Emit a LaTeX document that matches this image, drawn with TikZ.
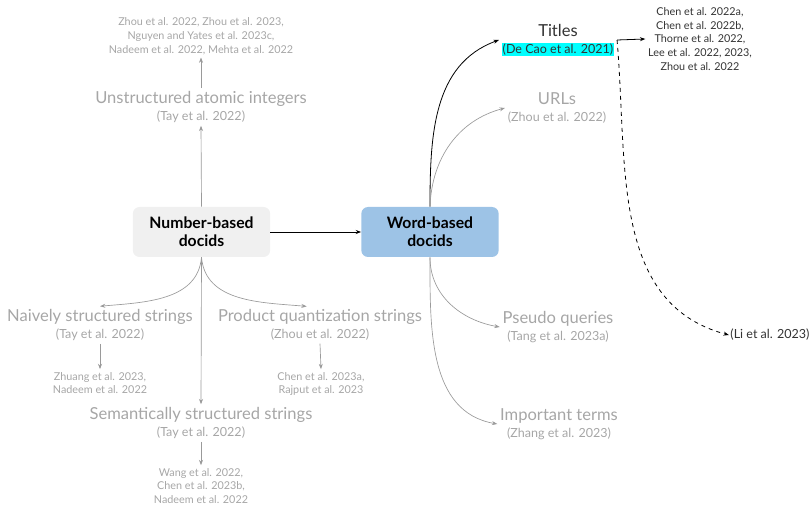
\documentclass[tikz,border=0pt]{standalone}
\usepackage{fontspec}
\setmainfont{Lato}
\usepackage{xcolor}
\usepackage{tikz}
\usetikzlibrary{positioning, arrows.meta}
\definecolor{CatGray}{HTML}{A6A6A6}
\definecolor{ArrGray}{HTML}{9A9A9A}
\definecolor{DarkText}{HTML}{333333}
\definecolor{NumFill}{HTML}{F0F0F0}
\definecolor{WordFill}{HTML}{9DC3E6}
\definecolor{HiCyan}{HTML}{00FFFF}
\setlength{\fboxsep}{0.6pt}

\begin{document}
\begin{tikzpicture}[
  x=0.75pt, y=-0.75pt,
  >={Stealth[length=4pt, width=3pt]},
  grayarr/.style={->, line width=0.5pt, color=ArrGray},
  darkarr/.style={->, line width=0.6pt, color=black},
  docbox/.style={font=\bfseries\fontsize{11.8}{13.5}\selectfont, rounded corners=5pt,
                 minimum width=103pt, minimum height=37.5pt, align=center},
  cat/.style={align=center, text=CatGray, inner sep=2pt},
  refs/.style={font=\fontsize{8.1}{10.4}\selectfont, align=center, text=CatGray, inner sep=2pt},
]
  \useasboundingbox (0,0) rectangle (811,506);

% ===== the two kinds of docids =====
  \node[docbox, fill=NumFill, text=black] (num) at (201.5,232) {Number-based\\docids};
  \node[docbox, fill=WordFill, text=black] (word) at (430,232) {Word-based\\docids};
  \draw[darkarr] (num.east) -- (word.west);

% ===== number-based branches =====
  \node[cat] (uai) at (201,107)
    {{\fontsize{12.4}{14}\selectfont Unstructured atomic integers}\\[1pt]{\fontsize{9.4}{10}\selectfont (Tay et al. 2022)}};
  \node[refs] (uaiRefs) at (201,36)
    {Zhou et al. 2022, Zhou et al. 2023,\\Nguyen and Yates et al. 2023c,\\Nadeem et al. 2022, Mehta et al. 2022};
  \draw[grayarr] (num.north) -- (uai.south);
  \draw[grayarr] (uai.north) -- (uaiRefs.south);

  \node[cat] (nss) at (100,325)
    {{\fontsize{12.4}{14}\selectfont Naively structured strings}\\[1pt]{\fontsize{9.4}{10}\selectfont (Tay et al. 2022)}};
  \node[refs] (nssRefs) at (100,383) {Zhuang et al. 2023,\\Nadeem et al. 2022};
  \draw[grayarr] (num.south) to[out=-95, in=5] (nss.north);
  \draw[grayarr] (nss.south) -- (nssRefs.north);

  \node[cat] (pqs) at (320,325)
    {{\fontsize{12.4}{14}\selectfont Product quantization strings}\\[1pt]{\fontsize{9.4}{10}\selectfont (Zhou et al. 2022)}};
  \node[refs] (pqsRefs) at (321,384) {Chen et al. 2023a,\\Rajput et al. 2023};
  \draw[grayarr] (num.south) to[out=-85, in=175] ([xshift=-10pt]pqs.north);
  \draw[grayarr] (pqs.south) -- (pqsRefs.north);

  \node[cat] (sss) at (201,423)
    {{\fontsize{12.4}{14}\selectfont Semantically structured strings}\\[1pt]{\fontsize{9.4}{10}\selectfont (Tay et al. 2022)}};
  \node[refs] (sssRefs) at (201,486) {Wang et al. 2022,\\Chen et al. 2023b,\\Nadeem et al. 2022};
  \draw[grayarr] (num.south) -- (sss.north);
  \draw[grayarr] (sss.south) -- (sssRefs.north);

% ===== word-based branches =====
  \node[cat, text=DarkText] (titles) at (558,40)
    {{\fontsize{12.4}{14}\selectfont Titles}\\[1pt]{\fontsize{9.4}{10}\selectfont\colorbox{HiCyan}{(De Cao et al. 2021)}}};
  \node[refs, text=DarkText] (titlesRefs) at (700,39)
    {Chen et al. 2022a,\\Chen et al. 2022b,\\Thorne et al. 2022,\\Lee et al. 2022, 2023,\\Zhou et al. 2022};
  \node[text=DarkText, inner sep=1pt, font=\fontsize{9.4}{10}\selectfont] (li) at (770,335) {(Li et al. 2023)};
  \draw[darkarr] (word.north) to[out=90, in=200] (titles.west);
  \draw[darkarr] (titles.east) -- (titlesRefs.west);
  \draw[darkarr, dashed] (titles.east) to[out=-85, in=165] (li.west);

  \node[cat] (urls) at (557,108)
    {{\fontsize{12.4}{14}\selectfont URLs}\\[1pt]{\fontsize{9.4}{10}\selectfont (Zhou et al. 2022)}};
  \draw[grayarr] (word.north) to[out=88, in=195] (urls.west);

  \node[cat] (pq) at (558,327)
    {{\fontsize{12.4}{14}\selectfont Pseudo queries}\\[1pt]{\fontsize{9.4}{10}\selectfont (Tang et al. 2023a)}};
  \draw[grayarr] (word.south) to[out=-90, in=170] (pq.west);

  \node[cat] (it) at (559,424)
    {{\fontsize{12.4}{14}\selectfont Important terms}\\[1pt]{\fontsize{9.4}{10}\selectfont (Zhang et al. 2023)}};
  \draw[grayarr] (word.south) to[out=-90, in=170] (it.west);

\end{tikzpicture}
\end{document}
